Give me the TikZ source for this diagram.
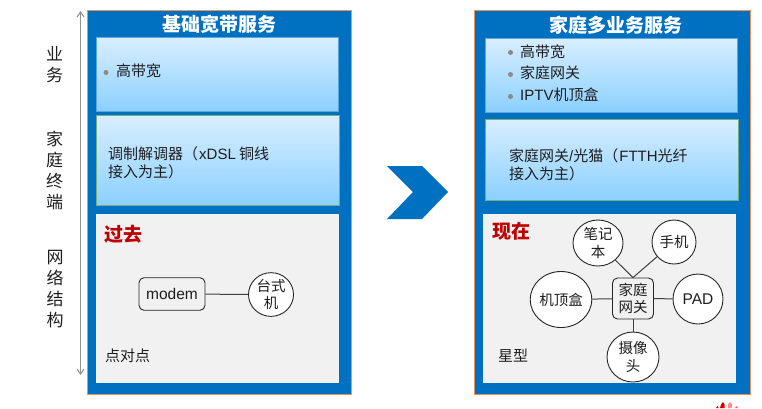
\documentclass[tikz,border=0pt]{standalone}
\usepackage{fontspec}
\setmainfont{Liberation Sans}
\newfontfamily\cjk{Noto Sans CJK SC}
\usetikzlibrary{arrows.meta,shapes.geometric,calc}
\definecolor{hblue}{HTML}{0070C0}
\definecolor{hedge}{HTML}{E8935A}
\definecolor{hgreen}{HTML}{76AE7A}
\definecolor{hline}{HTML}{5BA6DC}
\definecolor{hgray}{HTML}{F1F1F1}
\definecolor{hred}{HTML}{C00000}
\definecolor{hbul}{HTML}{8A8A8A}
\definecolor{htxt}{HTML}{1E1E1E}
\definecolor{gtop}{HTML}{D8EEFF}
\definecolor{gbot}{HTML}{8BD0FF}
\tikzset{
 x=1pt,y=-1pt,
 skyfade/.style={path picture={
   \coordinate (ga) at (path picture bounding box.north west);
   \coordinate (gb) at (path picture bounding box.south east);
   \foreach \i in {0,...,49}{
     \pgfmathsetmacro\mixv{100-2*\i}
     \fill[gtop!\mixv!gbot] ($(ga)!\i/50!(ga|-gb)$) rectangle (gb);
   }}},
 panel/.style={fill=hblue,draw=hedge,line width=0.9pt},
 gradbox/.style={skyfade,draw=hline,line width=0.8pt},
 gradboxg/.style={skyfade,draw=hgreen,line width=0.9pt},
 graybox/.style={fill=hgray,draw=none},
 title/.style={font=\cjk\fontsize{19}{20}\selectfont\bfseries,text=white,inner sep=0pt},
 body/.style={font=\cjk\fontsize{15}{18.5}\selectfont,text=htxt,inner sep=0pt,anchor=west,align=left},
 side/.style={font=\cjk\fontsize{17}{21}\selectfont,text=htxt,inner sep=0pt,align=center},
 era/.style={font=\cjk\fontsize{19}{20}\selectfont\bfseries,text=hred,inner sep=0pt,anchor=west},
 dev/.style={draw=black!85,line width=0.9pt,fill=white,inner sep=0pt,align=center,font=\cjk\fontsize{14.5}{17.5}\selectfont,text=htxt,ellipse},
 hub/.style={draw=black!85,line width=0.9pt,fill=hgray,rounded corners=5pt,inner sep=0pt,align=center,text=htxt},
 link/.style={draw=black!75,line width=1pt},
 bul/.style={circle,fill=hbul,inner sep=0pt,minimum size=5pt},
}
\begin{document}
\begin{tikzpicture}
\useasboundingbox (0,0) rectangle (762,408);
% left panel
\node[panel,minimum width=264pt,minimum height=384pt,inner sep=0pt,anchor=north west] (lp) at (87,10) {};
\node[title] (lt) at (219,24) {基础宽带服务};
\node[gradbox,minimum width=242pt,minimum height=74pt,inner sep=0pt,anchor=north west] (lb1) at (96,37) {};
\node[gradboxg,minimum width=243pt,minimum height=89.5pt,inner sep=0pt,anchor=north west] (lb2) at (95.5,115) {};
\node[graybox,minimum width=243pt,minimum height=169pt,inner sep=0pt,anchor=north west] (lb3) at (96,214) {};
\node[bul] (lbu) at (106,72.5) {};
\node[body] (lbt) at (116,71) {高带宽};
\node[body] (lbs) at (108,163) {调制解调器（\hspace{1pt}{\fontspec{Liberation Sans}xDSL} 铜线\\接入为主）};
\node[era] (lpast) at (104,234) {过去};
\node[hub,minimum width=66pt,minimum height=32.5pt,font=\fontsize{15.5}{18}\selectfont] (modem) at (172,294) {modem};
\node[dev,minimum width=45pt,minimum height=38.5pt] (pc) at (271,294.5) {台式\\机};
\draw[link] (modem) -- (pc);
\node[body] (lp2p) at (105,356) {点对点};
% side
\draw[gray!85,line width=1.1pt,{Straight Barb[length=5pt,width=7pt]}-{Straight Barb[length=5pt,width=7pt]}] (80.5,11) coordinate (at) -- (80.5,375) coordinate (ab);
\node[side] (s1) at (54.5,65) {业\\务};
\node[side] (s2) at (54.5,170) {家\\庭\\终\\端};
\node[side] (s3) at (55,289) {网\\络\\结\\构};
% chevron
\fill[hblue] (387,166) -- (422,166) -- (448,192) -- (422,219) -- (387,219) -- (413,192) -- cycle;
% right panel
\node[panel,minimum width=276pt,minimum height=384pt,inner sep=0pt,anchor=north west] (rp) at (474,10) {};
\node[title] (rt) at (616,25) {家庭多业务服务};
\node[gradbox,minimum width=252.5pt,minimum height=73.5pt,inner sep=0pt,anchor=north west] (rb1) at (484.5,38) {};
\node[gradboxg,minimum width=253pt,minimum height=81pt,inner sep=0pt,anchor=north west] (rb2) at (484.5,118.5) {};
\node[graybox,minimum width=253pt,minimum height=169pt,inner sep=0pt,anchor=north west] (rb3) at (483,214) {};
\node[bul] (rbu1) at (510.5,52.5) {};
\node[bul] (rbu2) at (510.5,74.5) {};
\node[bul] (rbu3) at (510.5,96.5) {};
\node[body] (rt1) at (520,51.5) {高带宽};
\node[body] (rt2) at (520,73) {家庭网关};
\node[body] (rt3) at (520,95) {{\fontspec{Liberation Sans}IPTV}机顶盒};
\node[body] (rbs) at (509,165) {家庭网关{\fontspec{Liberation Sans}/}光猫（\hspace{1pt}{\fontspec{Liberation Sans}FTTH}光纤\\接入为主）};
\node[era] (rnow) at (492,231) {现在};
\node[hub,minimum width=41pt,minimum height=41pt,font=\cjk\fontsize{14.5}{17.5}\selectfont] (gw) at (633,298.5) {家庭\\网关};
\node[dev,minimum width=50pt,minimum height=46pt] (nb) at (598,243) {笔记\\本};
\node[dev,minimum width=44pt,minimum height=44pt] (ph) at (674,242) {手机};
\node[dev,minimum width=58pt,minimum height=56pt] (stb) at (561,299.5) {机顶盒};
\node[dev,minimum width=50pt,minimum height=50pt,font=\fontsize{15.5}{18}\selectfont] (pad) at (698,299) {PAD};
\node[dev,minimum width=52pt,minimum height=50pt] (cam) at (633,357) {摄像\\头};
\draw[link] (gw.north) -- (nb);
\draw[link] (gw.north) -- (ph);
\draw[link] (gw) -- (stb);
\draw[link] (gw) -- (pad);
\draw[link] (gw) -- (cam);
\node[body] (star) at (498,356) {星型};
% logo
\fill[red!85!black] (720,408) .. controls (720,405) and (722,403) .. (723,402) .. controls (725,403) and (725,406) .. (724.5,408) -- cycle;
\fill[red!45!white] (728,408) .. controls (727,405) and (728,403) .. (730,402) .. controls (732,403) and (733,405) .. (731.5,408) -- cycle;
\fill[red!80!black] (716,408) -- (717.5,406) -- (718.5,408) -- cycle;
\fill[red!60!white] (735,408) -- (736.5,406) -- (738,408) -- cycle;
\end{tikzpicture}
\end{document}
